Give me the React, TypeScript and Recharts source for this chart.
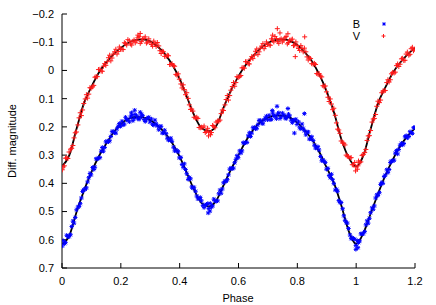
import React from 'react';
import { ComposedChart, Scatter, Line, XAxis, YAxis, Legend } from 'recharts';

// phases of the fitted model curves
const fitPhase = [
  0, 0.025, 0.05, 0.075, 0.1, 0.125, 0.15, 0.175, 0.2, 0.225, 0.25, 0.275, 0.3, 0.325, 0.35, 0.375,
  0.4, 0.425, 0.45, 0.475, 0.5, 0.525, 0.55, 0.575, 0.6, 0.625, 0.65, 0.675, 0.7, 0.725, 0.75, 0.775,
  0.8, 0.825, 0.85, 0.875, 0.9, 0.925, 0.95, 0.975, 1, 1.025, 1.05, 1.075, 1.1, 1.125, 1.15, 1.175, 1.2,
];

const vFit = [
  0.34, 0.3, 0.205, 0.115, 0.058, 0.008, -0.028, -0.057, -0.08, -0.097, -0.107, -0.11, -0.103, -0.085, -0.058, -0.02,
  0.03, 0.095, 0.16, 0.205, 0.215, 0.195, 0.13, 0.07, 0.02, -0.02, -0.052, -0.078, -0.097, -0.107, -0.11, -0.105,
  -0.09, -0.065, -0.032, 0.015, 0.075, 0.15, 0.245, 0.31, 0.34, 0.3, 0.205, 0.115, 0.058, 0.008, -0.028, -0.057, -0.08,
];

const bFit = [
  0.615, 0.585, 0.5, 0.425, 0.36, 0.305, 0.26, 0.22, 0.19, 0.172, 0.165, 0.166, 0.176, 0.195, 0.222, 0.258,
  0.305, 0.365, 0.425, 0.47, 0.482, 0.46, 0.405, 0.35, 0.3, 0.25, 0.21, 0.182, 0.167, 0.16, 0.16, 0.167,
  0.185, 0.212, 0.245, 0.29, 0.345, 0.4, 0.48, 0.57, 0.615, 0.575, 0.505, 0.435, 0.37, 0.315, 0.268, 0.232, 0.205,
];

// observed V points [phase, magnitude], first night
const vObsA = [
  [0.001, 0.352], [0.004, 0.342], [0.012, 0.311], [0.02, 0.312], [0.029, 0.279], [0.037, 0.266], [0.045, 0.221],
  [0.054, 0.193], [0.062, 0.15], [0.07, 0.14], [0.079, 0.101], [0.087, 0.098], [0.095, 0.061],
  [0.104, 0.058], [0.112, 0.024], [0.12, 0.022], [0.129, -0.004], [0.137, 0.003], [0.145, -0.024],
  [0.154, -0.031], [0.162, -0.054], [0.17, -0.044], [0.179, -0.066], [0.187, -0.058], [0.195, -0.083],
  [0.204, -0.075], [0.212, -0.098], [0.22, -0.09], [0.229, -0.105], [0.237, -0.09], [0.245, -0.108],
  [0.254, -0.105], [0.258, -0.125], [0.262, -0.12], [0.266, -0.131], [0.27, -0.102], [0.279, -0.114], [0.287, -0.097], [0.295, -0.112],
  [0.304, -0.092], [0.312, -0.104], [0.32, -0.085], [0.329, -0.087], [0.337, -0.06], [0.345, -0.066],
  [0.354, -0.05], [0.362, -0.052], [0.37, -0.021], [0.379, -0.017], [0.387, 0.014], [0.395, 0.012],
  [0.404, 0.048], [0.412, 0.051], [0.42, 0.086], [0.429, 0.099], [0.437, 0.138], [0.445, 0.144],
  [0.454, 0.169], [0.462, 0.17], [0.47, 0.203], [0.479, 0.202], [0.487, 0.22], [0.495, 0.205], [0.498, 0.232],
  [0.504, 0.22], [0.505, 0.228], [0.512, 0.195], [0.52, 0.203], [0.529, 0.179], [0.537, 0.176], [0.545, 0.14],
  [0.554, 0.122], [0.562, 0.089], [0.57, 0.089], [0.579, 0.057], [0.587, 0.056], [0.595, 0.022],
  [0.604, 0.022], [0.612, -0.009], [0.62, -0.008], [0.629, -0.031], [0.637, -0.023], [0.645, -0.049],
  [0.654, -0.054], [0.662, -0.076], [0.67, -0.066], [0.679, -0.086], [0.687, -0.077], [0.695, -0.101],
  [0.704, -0.091], [0.712, -0.112], [0.716, -0.125], [0.72, -0.101], [0.729, -0.113], [0.732, -0.148], [0.737, -0.096],
  [0.741, -0.133], [0.745, -0.112], [0.754, -0.107], [0.762, -0.12], [0.768, -0.13], [0.77, -0.099],
  [0.779, -0.108], [0.787, -0.088], [0.793, -0.049], [0.795, -0.101], [0.804, -0.078], [0.812, -0.088], [0.82, -0.066],
  [0.825, -0.119], [0.829, -0.066], [0.837, -0.037], [0.845, -0.042], [0.854, -0.022], [0.862, -0.021], [0.87, 0.013],
  [0.879, 0.02], [0.887, 0.054], [0.895, 0.055], [0.904, 0.095], [0.912, 0.101], [0.92, 0.139],
  [0.929, 0.159], [0.937, 0.208], [0.945, 0.223], [0.954, 0.257], [0.962, 0.264], [0.97, 0.304],
  [0.979, 0.31], [0.987, 0.334], [0.995, 0.326], [0.998, 0.356], [1.004, 0.35], [1.006, 0.338], [1.012, 0.326], [1.02, 0.301],
  [1.029, 0.291], [1.037, 0.248], [1.045, 0.231], [1.054, 0.183], [1.062, 0.17], [1.07, 0.127],
  [1.079, 0.114], [1.087, 0.079], [1.095, 0.072], [1.104, 0.043], [1.112, 0.041], [1.12, 0.012],
  [1.129, 0.009], [1.137, -0.017], [1.145, -0.014], [1.154, -0.041], [1.162, -0.035], [1.17, -0.058],
  [1.179, -0.054], [1.187, -0.077], [1.195, -0.07],
];

// observed V points, second night
const vObsB = [
  [0.008, 0.338], [0.016, 0.31], [0.024, 0.289], [0.033, 0.276], [0.041, 0.239], [0.049, 0.218],
  [0.058, 0.168], [0.066, 0.16], [0.074, 0.117], [0.083, 0.086], [0.091, 0.084], [0.099, 0.063],
  [0.108, 0.053], [0.116, 0.022], [0.124, -0.003], [0.133, 0.002], [0.141, -0.015], [0.149, -0.018],
  [0.158, -0.045], [0.166, -0.034], [0.174, -0.058], [0.183, -0.075], [0.191, -0.067], [0.199, -0.076],
  [0.208, -0.074], [0.216, -0.095], [0.224, -0.109], [0.233, -0.094], [0.241, -0.103], [0.249, -0.098],
  [0.258, -0.116], [0.266, -0.096], [0.274, -0.112], [0.283, -0.119], [0.291, -0.101], [0.299, -0.1],
  [0.308, -0.086], [0.316, -0.095], [0.324, -0.099], [0.333, -0.07], [0.341, -0.068], [0.349, -0.05],
  [0.358, -0.054], [0.366, -0.021], [0.374, -0.024], [0.383, -0.015], [0.391, 0.017], [0.399, 0.031],
  [0.408, 0.062], [0.416, 0.068], [0.424, 0.079], [0.433, 0.122], [0.441, 0.137], [0.449, 0.166],
  [0.458, 0.166], [0.466, 0.202], [0.474, 0.201], [0.483, 0.197], [0.491, 0.216], [0.499, 0.218],
  [0.508, 0.22], [0.516, 0.198], [0.524, 0.183], [0.533, 0.18], [0.541, 0.153], [0.549, 0.142],
  [0.558, 0.103], [0.566, 0.105], [0.574, 0.07], [0.583, 0.043], [0.591, 0.043], [0.599, 0.025],
  [0.608, 0.018], [0.616, -0.01], [0.624, -0.031], [0.633, -0.024], [0.641, -0.04], [0.649, -0.042],
  [0.658, -0.068], [0.666, -0.056], [0.674, -0.079], [0.683, -0.095], [0.691, -0.085], [0.699, -0.093],
  [0.708, -0.089], [0.716, -0.107], [0.724, -0.12], [0.733, -0.102], [0.741, -0.109], [0.749, -0.101],
  [0.758, -0.116], [0.766, -0.094], [0.774, -0.107], [0.783, -0.111], [0.791, -0.09], [0.799, -0.088],
  [0.808, -0.071], [0.816, -0.078], [0.824, -0.079], [0.833, -0.048], [0.841, -0.044], [0.849, -0.024],
  [0.858, -0.025], [0.866, 0.011], [0.874, 0.011], [0.883, 0.023], [0.891, 0.058], [0.899, 0.076],
  [0.908, 0.11], [0.916, 0.119], [0.924, 0.134], [0.933, 0.186], [0.941, 0.211], [0.949, 0.25],
  [0.958, 0.258], [0.966, 0.3], [0.974, 0.305], [0.983, 0.309], [0.991, 0.334], [0.999, 0.342],
  [1.008, 0.321], [1.016, 0.324], [1.024, 0.298], [1.033, 0.28], [1.041, 0.232], [1.049, 0.213],
  [1.058, 0.172], [1.066, 0.156], [1.074, 0.109], [1.083, 0.105], [1.091, 0.073], [1.099, 0.071],
  [1.108, 0.033], [1.116, 0.033], [1.124, 0.007], [1.133, 0.006], [1.141, -0.023], [1.149, -0.022],
  [1.158, -0.043], [1.166, -0.036], [1.174, -0.065], [1.183, -0.057], [1.191, -0.082], [1.199, -0.075],
];

// observed B points, first night
const bObsA = [
  [0.001, 0.622], [0.004, 0.603], [0.012, 0.61], [0.02, 0.589], [0.029, 0.582], [0.037, 0.534], [0.045, 0.521],
  [0.054, 0.484], [0.062, 0.472], [0.07, 0.429], [0.079, 0.421], [0.087, 0.395], [0.095, 0.365],
  [0.104, 0.344], [0.112, 0.343], [0.12, 0.314], [0.129, 0.309], [0.137, 0.273], [0.145, 0.273],
  [0.154, 0.25], [0.162, 0.249], [0.17, 0.217], [0.179, 0.221], [0.187, 0.207], [0.195, 0.188],
  [0.204, 0.18], [0.212, 0.19], [0.22, 0.174], [0.229, 0.182], [0.236, 0.15], [0.237, 0.159], [0.245, 0.17], [0.247, 0.141],
  [0.254, 0.161], [0.262, 0.173], [0.266, 0.148], [0.27, 0.155], [0.279, 0.174], [0.287, 0.172], [0.295, 0.166],
  [0.304, 0.172], [0.312, 0.194], [0.32, 0.189], [0.329, 0.21], [0.337, 0.198], [0.345, 0.221],
  [0.354, 0.224], [0.362, 0.247], [0.37, 0.24], [0.379, 0.272], [0.387, 0.282], [0.395, 0.288],
  [0.404, 0.308], [0.412, 0.343], [0.42, 0.351], [0.429, 0.386], [0.437, 0.384], [0.445, 0.417],
  [0.454, 0.428], [0.462, 0.455], [0.47, 0.45], [0.479, 0.478], [0.487, 0.477], [0.495, 0.472], [0.497, 0.505],
  [0.503, 0.498], [0.504, 0.471], [0.512, 0.48], [0.52, 0.462], [0.529, 0.462], [0.537, 0.424], [0.545, 0.42],
  [0.554, 0.392], [0.562, 0.387], [0.57, 0.35], [0.579, 0.348], [0.587, 0.327], [0.595, 0.302],
  [0.604, 0.285], [0.612, 0.285], [0.62, 0.258], [0.629, 0.255], [0.637, 0.221], [0.645, 0.222],
  [0.654, 0.202], [0.662, 0.205], [0.67, 0.177], [0.679, 0.186], [0.687, 0.176], [0.695, 0.162],
  [0.704, 0.159], [0.712, 0.173], [0.715, 0.142], [0.72, 0.159], [0.729, 0.171], [0.731, 0.127], [0.737, 0.15], [0.745, 0.164],
  [0.754, 0.157], [0.762, 0.171], [0.768, 0.135], [0.77, 0.155], [0.779, 0.176], [0.787, 0.177], [0.79, 0.222], [0.795, 0.173],
  [0.804, 0.182], [0.812, 0.207], [0.82, 0.205], [0.824, 0.153], [0.829, 0.228], [0.837, 0.218], [0.845, 0.242],
  [0.854, 0.248], [0.862, 0.275], [0.87, 0.27], [0.879, 0.305], [0.887, 0.317], [0.895, 0.326],
  [0.904, 0.347], [0.912, 0.38], [0.92, 0.387], [0.929, 0.424], [0.937, 0.428], [0.945, 0.468],
  [0.954, 0.49], [0.962, 0.531], [0.97, 0.541], [0.979, 0.583], [0.987, 0.593], [0.995, 0.598], [0.999, 0.634],
  [1.004, 0.603], [1.006, 0.628], [1.012, 0.604], [1.02, 0.579], [1.029, 0.571], [1.037, 0.533], [1.045, 0.524],
  [1.054, 0.487], [1.062, 0.48], [1.07, 0.441], [1.079, 0.433], [1.087, 0.397], [1.095, 0.376],
  [1.104, 0.352], [1.112, 0.351], [1.12, 0.321], [1.129, 0.318], [1.137, 0.284], [1.145, 0.28],
  [1.154, 0.258], [1.162, 0.259], [1.17, 0.231], [1.179, 0.234], [1.187, 0.221], [1.195, 0.203],
];

// observed B points, second night
const bObsB = [
  [0.008, 0.614], [0.016, 0.584], [0.024, 0.589], [0.033, 0.553], [0.041, 0.541], [0.049, 0.494],
  [0.058, 0.482], [0.066, 0.452], [0.074, 0.422], [0.083, 0.416], [0.091, 0.38], [0.099, 0.37],
  [0.108, 0.351], [0.116, 0.313], [0.124, 0.31], [0.133, 0.286], [0.141, 0.286], [0.149, 0.253],
  [0.158, 0.253], [0.166, 0.234], [0.174, 0.216], [0.183, 0.222], [0.191, 0.198], [0.199, 0.198],
  [0.208, 0.193], [0.216, 0.166], [0.224, 0.176], [0.233, 0.165], [0.241, 0.178], [0.249, 0.156],
  [0.258, 0.171], [0.266, 0.166], [0.274, 0.16], [0.283, 0.181], [0.291, 0.169], [0.299, 0.183],
  [0.308, 0.191], [0.316, 0.176], [0.324, 0.197], [0.333, 0.199], [0.341, 0.222], [0.349, 0.212],
  [0.358, 0.24], [0.366, 0.245], [0.374, 0.251], [0.383, 0.285], [0.391, 0.285], [0.399, 0.31],
  [0.408, 0.333], [0.416, 0.331], [0.424, 0.366], [0.433, 0.379], [0.441, 0.413], [0.449, 0.414],
  [0.458, 0.445], [0.466, 0.454], [0.474, 0.462], [0.483, 0.486], [0.491, 0.475], [0.499, 0.489],
  [0.508, 0.484], [0.516, 0.456], [0.524, 0.464], [0.533, 0.437], [0.541, 0.435], [0.549, 0.398],
  [0.558, 0.393], [0.566, 0.37], [0.574, 0.346], [0.583, 0.346], [0.591, 0.315], [0.599, 0.309],
  [0.608, 0.293], [0.616, 0.256], [0.624, 0.255], [0.633, 0.232], [0.641, 0.234], [0.649, 0.203],
  [0.658, 0.207], [0.666, 0.192], [0.674, 0.177], [0.683, 0.189], [0.691, 0.169], [0.699, 0.175],
  [0.708, 0.174], [0.716, 0.151], [0.724, 0.163], [0.733, 0.155], [0.741, 0.17], [0.749, 0.151],
  [0.758, 0.168], [0.766, 0.164], [0.774, 0.161], [0.783, 0.185], [0.791, 0.176], [0.799, 0.191],
  [0.808, 0.203], [0.816, 0.19], [0.824, 0.214], [0.833, 0.218], [0.841, 0.243], [0.849, 0.235],
  [0.858, 0.265], [0.866, 0.274], [0.874, 0.282], [0.883, 0.32], [0.891, 0.322], [0.899, 0.35],
  [0.908, 0.372], [0.916, 0.368], [0.924, 0.401], [0.933, 0.421], [0.941, 0.461], [0.949, 0.468],
  [0.958, 0.515], [0.966, 0.538], [0.974, 0.56], [0.983, 0.596], [0.991, 0.596], [0.999, 0.62],
  [1.008, 0.61], [1.016, 0.579], [1.024, 0.579], [1.033, 0.547], [1.041, 0.541], [1.049, 0.504],
  [1.058, 0.492], [1.066, 0.452], [1.074, 0.443], [1.083, 0.404], [1.091, 0.4], [1.099, 0.371],
  [1.108, 0.362], [1.116, 0.326], [1.124, 0.321], [1.133, 0.293], [1.141, 0.296], [1.149, 0.265],
  [1.158, 0.264], [1.166, 0.235], [1.174, 0.239], [1.183, 0.217], [1.191, 0.223], [1.199, 0.202],
];

const xTicks = [0, 0.2, 0.4, 0.6, 0.8, 1, 1.2];
const yTicks = [-0.2, -0.1, 0, 0.1, 0.2, 0.3, 0.4, 0.5, 0.6, 0.7];

const FONT = '"Liberation Sans", Arial, Helvetica, sans-serif';
const RED = '#ff1a1a';
const BLUE = '#0000ff';

const toPoints = (rows: number[][]) => rows.map(([phase, mag]) => ({ phase, mag }));
const vData = toPoints([...vObsA, ...vObsB]);
const bData = toPoints([...bObsA, ...bObsB]);
const vLine = fitPhase.map((phase, i) => ({ phase, mag: vFit[i] }));
const bLine = fitPhase.map((phase, i) => ({ phase, mag: bFit[i] }));

const fmtY = (v: number) => (v < 0 ? '\u2212' + Math.abs(v) : String(v));

const PlusMark = ({ cx, cy, r = 2.5 }: any) => (
  <g stroke={RED} strokeWidth={1}>
    <line x1={cx - r} y1={cy} x2={cx + r} y2={cy} />
    <line x1={cx} y1={cy - r} x2={cx} y2={cy + r} />
  </g>
);

const StarMark = ({ cx, cy, r = 2.2 }: any) => (
  <g stroke={BLUE} strokeWidth={1}>
    <line x1={cx - r} y1={cy} x2={cx + r} y2={cy} />
    <line x1={cx} y1={cy - r} x2={cx} y2={cy + r} />
    <line x1={cx - r * 0.75} y1={cy - r * 0.75} x2={cx + r * 0.75} y2={cy + r * 0.75} />
    <line x1={cx - r * 0.75} y1={cy + r * 0.75} x2={cx + r * 0.75} y2={cy - r * 0.75} />
  </g>
);

const KeyBox = () => (
  <svg width={60} height={30}>
    <text x={16.5} y={14} textAnchor="middle" fontSize={11} fontFamily={FONT} fill="#000">B</text>
    <StarMark cx={44} cy={10} r={1.8} />
    <text x={16.5} y={26} textAnchor="middle" fontSize={11} fontFamily={FONT} fill="#000">V</text>
    <PlusMark cx={43.5} cy={22} r={2} />
  </svg>
);

const tickStyle = { fontSize: 11, fill: '#000', fontFamily: FONT };

export default function App() {
  return (
    <div style={{ position: 'absolute', left: 0, top: 0, width: 436, height: 305, background: '#fff' }}>
      <ComposedChart width={436} height={305} margin={{ top: 14, right: 21, bottom: 0, left: 0 }}>
        <XAxis
          type="number"
          dataKey="phase"
          domain={[0, 1.2]}
          ticks={xTicks}
          allowDataOverflow
          height={37}
          tickSize={-5}
          tickMargin={14}
          tick={tickStyle}
          axisLine={{ stroke: '#000' }}
          tickLine={{ stroke: '#000' }}
          label={{
            content: () => (
              <text x={238} y={302} textAnchor="middle" fontSize={11} fontFamily={FONT} fill="#000">Phase</text>
            ),
          }}
        />
        <XAxis
          xAxisId="top"
          orientation="top"
          type="number"
          domain={[0, 1.2]}
          ticks={xTicks}
          allowDataOverflow
          height={0}
          tickSize={-5}
          tickFormatter={() => ''}
          axisLine={{ stroke: '#000' }}
          tickLine={{ stroke: '#000' }}
        />
        <YAxis
          type="number"
          dataKey="mag"
          domain={[-0.2, 0.7]}
          ticks={yTicks}
          reversed
          allowDataOverflow
          width={62}
          tickSize={-5}
          tickMargin={13}
          tick={tickStyle}
          tickFormatter={fmtY}
          axisLine={{ stroke: '#000' }}
          tickLine={{ stroke: '#000' }}
          label={{
            content: () => (
              <text x={16} y={141} transform="rotate(-90 16 141)" textAnchor="middle" fontSize={11} fontFamily={FONT} fill="#000">
                Diff. magnitude
              </text>
            ),
          }}
        />
        <YAxis
          yAxisId="right"
          orientation="right"
          type="number"
          domain={[-0.2, 0.7]}
          ticks={yTicks}
          reversed
          allowDataOverflow
          width={0}
          tickSize={-5}
          tickFormatter={() => ''}
          axisLine={{ stroke: '#000' }}
          tickLine={{ stroke: '#000' }}
        />
        <Legend
          layout="vertical"
          align="center"
          verticalAlign="middle"
          wrapperStyle={{ position: 'absolute', left: 340, top: 14, width: 60, height: 30 }}
          content={() => <KeyBox />}
        />
        <Scatter name="B" data={bData} dataKey="mag" shape={StarMark} isAnimationActive={false} />
        <Scatter name="V" data={vData} dataKey="mag" shape={PlusMark} isAnimationActive={false} />
        <Line data={bLine} dataKey="mag" type="monotone" stroke="#000" strokeWidth={1.8} dot={false} isAnimationActive={false} />
        <Line data={vLine} dataKey="mag" type="monotone" stroke="#000" strokeWidth={1.8} dot={false} isAnimationActive={false} />
      </ComposedChart>
    </div>
  );
}
